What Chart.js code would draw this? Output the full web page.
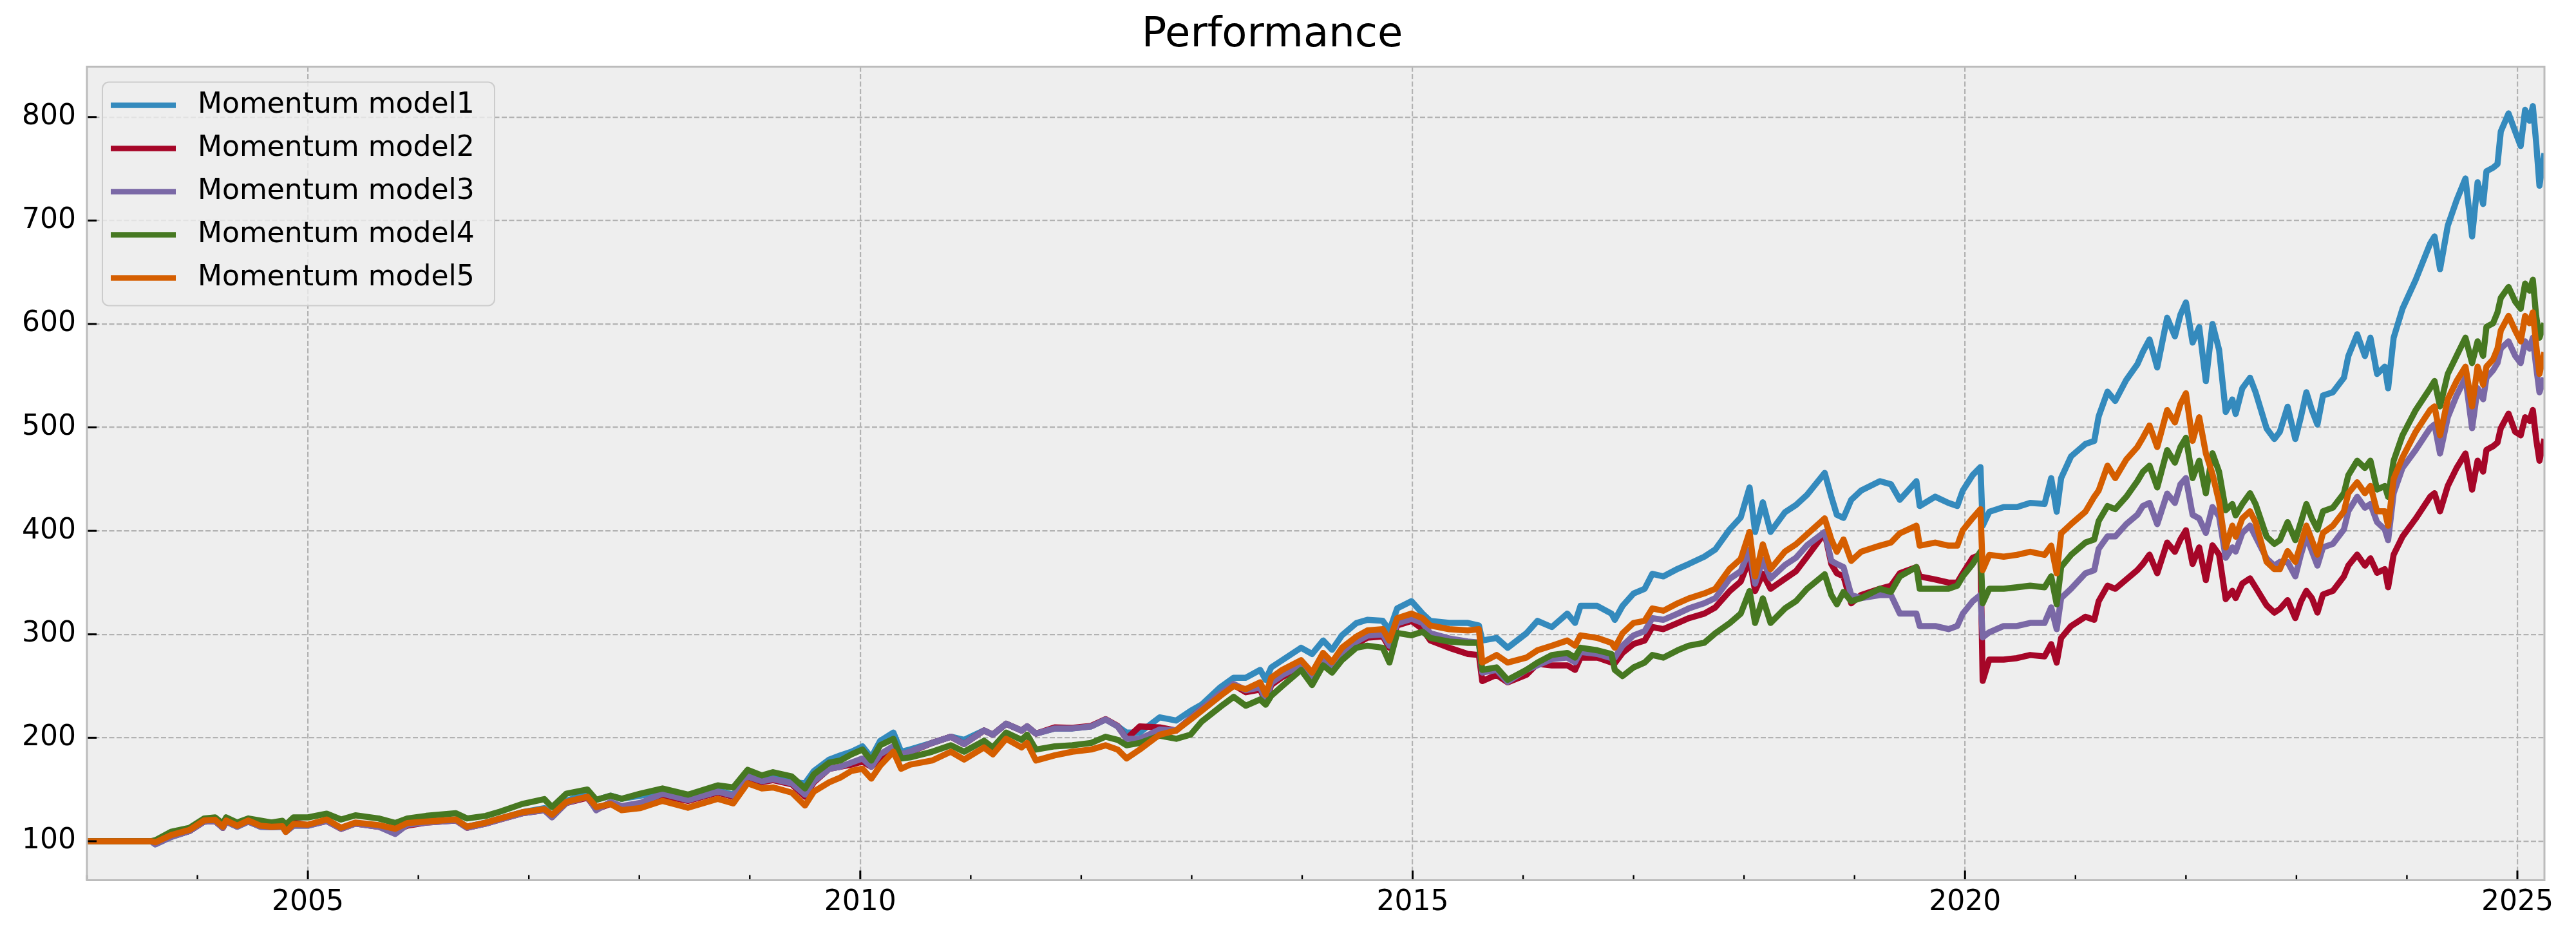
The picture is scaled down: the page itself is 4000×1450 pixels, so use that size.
<!DOCTYPE html>
<html>
<head>
<meta charset="utf-8">
<title>Performance</title>
<script src="https://cdn.jsdelivr.net/npm/chart.js@4.4.1/dist/chart.umd.min.js"></script>
<style>
  html, body { margin: 0; padding: 0; background: #ffffff; }
  #perfChart { display: block; }
</style>
</head>
<body>
<canvas id="perfChart" width="4000" height="1450"></canvas>
<script>
// Fechas en años decimales (eje x compartido por todas las series)
var dates = [
  2003.00, 2003.58, 2003.62, 2003.76, 2003.93, 2004.06, 2004.16, 2004.23, 2004.26, 2004.36,
  2004.46, 2004.57, 2004.67, 2004.77, 2004.80, 2004.87, 2005.00, 2005.17, 2005.30, 2005.43,
  2005.64, 2005.79, 2005.90, 2006.07, 2006.34, 2006.44, 2006.61, 2006.74, 2006.94, 2007.14,
  2007.21, 2007.34, 2007.53, 2007.61, 2007.74, 2007.84, 2008.01, 2008.21,
  2008.44, 2008.71, 2008.85, 2008.98, 2009.11, 2009.21, 2009.38, 2009.50, 2009.58, 2009.72,
  2009.82, 2009.92, 2010.02, 2010.10, 2010.18, 2010.30, 2010.37, 2010.45, 2010.65, 2010.82,
  2010.94, 2011.12, 2011.20, 2011.32, 2011.46, 2011.51, 2011.59, 2011.76, 2011.92, 2012.09,
  2012.22, 2012.33, 2012.41, 2012.53, 2012.71, 2012.86, 2012.99, 2013.09, 2013.26, 2013.38,
  2013.49, 2013.62, 2013.67, 2013.72, 2013.82, 2013.99, 2014.09, 2014.19, 2014.27, 2014.36,
  2014.49, 2014.59, 2014.73, 2014.79, 2014.86, 2014.99, 2015.09, 2015.16, 2015.33, 2015.50,
  2015.60, 2015.63, 2015.76, 2015.86, 2016.03, 2016.13, 2016.26, 2016.40, 2016.47, 2016.52,
  2016.67, 2016.80, 2016.83, 2016.90, 2017.00, 2017.10, 2017.17, 2017.27, 2017.40, 2017.50,
  2017.64, 2017.74, 2017.87, 2017.97, 2018.05, 2018.10, 2018.17, 2018.24, 2018.37, 2018.47,
  2018.57, 2018.73,
  2018.79, 2018.84, 2018.90, 2018.97, 2019.06, 2019.23, 2019.33, 2019.41, 2019.56, 2019.59,
  2019.73, 2019.85, 2019.93, 2019.98, 2020.07, 2020.14, 2020.16, 2020.22, 2020.35, 2020.47,
  2020.59, 2020.72, 2020.78, 2020.83, 2020.87, 2020.96, 2021.09, 2021.17, 2021.21, 2021.29,
  2021.36, 2021.46, 2021.56, 2021.61, 2021.67, 2021.74, 2021.83, 2021.90, 2021.95, 2022.00,
  2022.06, 2022.12, 2022.18, 2022.24, 2022.30, 2022.36, 2022.42, 2022.45, 2022.51, 2022.58,
  2022.63, 2022.73, 2022.80, 2022.85, 2022.92, 2022.99, 2023.04, 2023.09, 2023.14, 2023.19,
  2023.24, 2023.33, 2023.43, 2023.47, 2023.55, 2023.62, 2023.67, 2023.73, 2023.80, 2023.83,
  2023.88, 2023.96, 2024.08, 2024.21, 2024.25, 2024.30, 2024.37, 2024.45, 2024.53, 2024.59,
  2024.64, 2024.69, 2024.72, 2024.78, 2024.82, 2024.85, 2024.92, 2024.98, 2025.03, 2025.07,
  2025.11, 2025.14, 2025.17, 2025.20, 2025.245
];

// Momentum model1
var model1 = [
  100, 100, 97, 104, 110, 119, 119.5, 113, 119, 114,
  119, 114, 113.5, 114, 109.5, 115, 115, 120, 112.5, 117.5,
  115, 111, 117, 119, 121, 114, 118, 122, 128, 132,
  125, 139, 146, 140, 144, 141, 144, 148,
  140, 149, 145, 163, 158, 161, 157, 156, 167.8, 179,
  183, 186.5, 191.7, 181, 197, 205, 186.5, 188.6, 195, 201,
  198, 207, 203, 213.5, 207, 211, 204, 209, 209, 211,
  217.7, 211, 205, 205, 219.7, 216.6, 226, 232, 248.9, 258,
  258, 265.6, 256, 268, 275, 287, 281, 294, 285, 299,
  310.8, 314, 313, 303.7, 325, 332, 320, 313, 311, 311,
  308.5, 294, 296.5, 287, 301, 313, 307, 320, 311, 327.5,
  327.5, 320, 314, 327.5, 339.5, 344, 358.5, 356, 363.3, 368,
  375, 382, 401.4, 413, 442, 399, 427.6, 399, 418, 425,
  434.8, 456,
  433, 415.5, 412.5, 430, 439, 448, 445, 430, 448, 424,
  433, 427, 424, 439, 454, 461.6, 405, 418.5, 423, 423,
  427, 426, 451, 418.5, 451, 472, 484, 487, 510.7, 534.5,
  525.6, 546, 561, 573, 585, 558, 606, 588, 609, 620.8,
  582, 597, 544.8, 600, 575, 515, 527, 513, 537.8, 548,
  534, 499, 488.8, 495.8, 520, 488.8, 509.8, 534, 516.8, 502.8,
  530.8, 534, 548, 569, 590, 569, 586.7, 551.7, 558.7, 537.8,
  586.7, 614.7, 642.7, 677.6, 684.6, 653, 695, 719.6, 740.6, 684.6,
  737, 716, 747.6, 751, 754.5, 786, 803.5, 786, 772, 807,
  796.5, 810.5, 775.5, 733.6, 765
];

// Momentum model2
var model2 = [
  100, 100, 98, 104.5, 110, 119, 119.5, 113, 119, 114.5,
  119, 114.5, 114, 118, 115, 118, 115.5, 119.5, 112, 117,
  114, 110, 115, 118, 120, 113, 117, 121, 127, 130,
  124, 137, 142, 131, 136, 132, 135, 144,
  139, 147, 143, 161, 157, 159, 155, 143, 157, 170,
  172, 174, 177, 172, 180, 190.6, 184, 186, 195, 201,
  194, 207, 203, 213.5, 207, 211, 204, 210, 209.5, 211.5,
  218, 211.5, 199, 211, 210, 207, 219, 228, 242, 251,
  244, 246.6, 234.7, 251, 258.6, 268, 256, 275, 266, 280,
  290.7, 296.7, 298, 287, 308.6, 313, 305, 294, 287, 281,
  280, 254.8, 260.8, 253.6, 260.8, 271.5, 270, 270, 265.6, 277.5,
  277.5, 272.7, 272, 282, 290.6, 294, 307, 305, 311, 315.6,
  320, 326, 341.8, 351, 372.8, 341.8, 358.5, 344, 353.7, 361,
  375, 398,
  368, 359, 356, 330, 338, 344, 347, 359, 365, 356,
  353, 350, 350, 359, 374, 377, 255, 275.6, 275.6, 277,
  280, 278.6, 290.5, 272.6, 296.4, 308, 317, 314, 332, 347,
  344, 353, 362, 368, 377, 359, 388.7, 379.8, 391.7, 400.6,
  368, 384, 352.4, 386, 377, 334, 342, 335, 349, 354,
  345.5, 328, 321, 324.5, 333, 315.7, 331.5, 342, 335, 321,
  338.5, 342, 356, 366.4, 377, 366.4, 373.4, 359.4, 363, 345.5,
  377, 394.4, 411.9, 432.9, 436.4, 418.9, 443.4, 460.8, 474.8, 439.9,
  467.8, 457.3, 478.3, 481.8, 485.3, 499.3, 513.3, 495.8, 492.3, 509.8,
  506.3, 516.8, 488.8, 467.8, 488.8
];

// Momentum model3
var model3 = [
  100, 100, 97, 104, 110, 119, 119.5, 113, 119, 114,
  119, 114, 113.5, 114, 109, 115, 115, 119.5, 112, 117,
  114, 107, 116, 118, 120, 113, 117, 121, 127, 130,
  123, 137, 143, 130, 138, 134, 137, 146,
  139.7, 148, 144, 162.6, 158, 160, 156, 145, 158, 170,
  172, 176, 180, 172, 184, 192, 184, 186.5, 195, 201,
  194, 207, 203, 213.5, 207, 211, 204, 209, 209, 211,
  217.7, 211, 199, 199, 208, 207, 219, 228, 243, 252,
  246, 248.6, 236.7, 253, 260.6, 270, 258, 277, 268, 282,
  292.7, 298.7, 300, 289, 310.6, 315, 311, 301, 296, 293,
  292, 263, 265.6, 254, 265.6, 270, 276, 277.5, 273, 283,
  281, 277, 277.5, 289, 299, 303, 315.6, 314, 320, 325,
  330, 335, 353.7, 361, 382, 349, 372, 354, 367, 374,
  386, 399,
  371, 368, 365, 338, 335, 338, 338, 320, 320, 308,
  308, 305, 308, 320, 332, 338, 297, 302, 308, 308,
  311, 311, 326, 305, 335, 344, 359, 362, 382.7, 394.6,
  394.6, 406.5, 415.5, 424, 427, 406.5, 436, 427, 445, 451,
  415.5, 412, 398, 423, 414, 374, 384, 380, 398, 405,
  394.4, 373.4, 366.4, 370, 370, 356, 377, 394.4, 380.4, 366.4,
  384, 387.4, 401.4, 419, 432.9, 422.4, 425.9, 408.4, 401.4, 391,
  436.4, 460.8, 478.3, 499.3, 502.8, 474.8, 509.8, 530.8, 548, 499.3,
  537.8, 527.3, 548, 555.2, 562.2, 576.2, 583.2, 569.2, 562.2, 583.2,
  576.2, 586.7, 558.7, 534, 548
];

// Momentum model4
var model4 = [
  100, 100, 101, 109, 113, 122, 123, 117, 123, 118,
  122, 120, 118, 119.7, 116, 123, 123, 126.6, 121, 125,
  122, 117.6, 122, 124.5, 127, 122, 124.5, 128.6, 136, 140.7,
  133, 146, 150, 140, 144, 141, 146, 151,
  145, 154, 152, 169, 163.6, 166.7, 162.6, 151, 164.7, 176,
  178, 184, 188.6, 178, 192.7, 199, 180, 181, 186.5, 192.7,
  186.5, 197, 190.6, 205, 198, 203, 188.6, 191.7, 192.7, 195,
  201, 198, 192.7, 195, 202, 199, 203, 215.6, 230, 239.5,
  231, 237, 232, 240.5, 250, 265.6, 251, 270, 263, 275,
  287, 289, 287, 272.7, 301.3, 299, 302.5, 296.5, 293, 291.8,
  291.8, 265.6, 268, 256, 265.6, 272.7, 280, 282, 277.5, 287,
  284.6, 281, 265.6, 259.6, 268, 272.7, 280, 277.5, 284.6, 289,
  291.8, 301, 310.8, 320, 341.8, 311, 334.7, 311, 325, 332,
  344, 358,
  338, 329, 341, 332, 335, 344, 341, 356, 365, 344,
  344, 344, 347, 356, 368, 380, 330, 344, 344, 345.5,
  347, 345.5, 356, 329, 365, 376.8, 388.7, 391.7, 409.5, 424,
  421, 433, 448, 457, 463, 442, 478, 466, 481, 490,
  451, 467.8, 436.4, 475, 457, 420, 425.9, 415, 425.9, 436.4,
  425.9, 394.4, 387.4, 391, 408.4, 391, 408.4, 425.9, 412, 401.4,
  418.9, 422.4, 436.4, 453.8, 467.8, 460.8, 467.8, 439.9, 443.4, 432.9,
  467.8, 492.3, 516.8, 537.8, 544.8, 520.3, 551.7, 569.2, 586.7, 562.2,
  583.2, 569.2, 597.2, 600.7, 611.2, 625.2, 635.7, 621.7, 614.7, 639,
  632.2, 642.7, 607.7, 586.7, 600.7
];

// Momentum model5
var model5 = [
  100, 100, 99, 105.8, 111, 120, 120.7, 114, 120, 115,
  120, 115, 114, 114.5, 109, 116.6, 116, 121, 113, 118,
  115.6, 112, 117.6, 119, 121, 114, 118, 122, 128, 131,
  125.5, 138, 143, 133, 136, 130, 132, 139,
  132.4, 141, 136.6, 156, 151, 152, 147, 134.5, 148, 157,
  161.5, 168, 170, 160.5, 173, 186.5, 170, 174, 178, 186.5,
  179, 190.6, 184, 199, 190.6, 195, 178, 183, 186.5, 188.6,
  192.7, 188.6, 180, 188.6, 203, 207, 217.7, 226, 240.5, 250,
  247, 253.6, 241.7, 258, 265.6, 275, 263, 282, 273, 287,
  297.7, 303.7, 305, 294, 315.6, 320, 315.6, 308.5, 305, 303.7,
  305, 272.7, 280, 272.7, 277.5, 284.6, 289, 294, 289, 299,
  296.5, 291.8, 287, 301, 311, 313, 325, 322.8, 330, 334.7,
  339.5, 344, 363.3, 372.8, 399, 356, 387, 363, 380, 387,
  396.7, 412,
  391.7, 379.8, 391.7, 371, 379.8, 385.7, 388.7, 397.6, 405, 385.7,
  388.7, 385.7, 385.7, 400.6, 412.5, 421, 362, 376.8, 375, 376.8,
  379.8, 376.8, 385.7, 359, 397.6, 406.5, 418.5, 433, 439, 463,
  451, 469, 481, 490, 501.8, 481, 516.7, 504.8, 522.6, 533,
  487, 509.8, 475, 455, 428, 384, 405, 394.4, 412, 418.9,
  408.4, 370, 363, 363, 380.4, 370, 387.4, 405, 391, 377,
  398, 405, 418.9, 436.4, 446.9, 436.4, 443.4, 418.9, 418.9, 405,
  450.3, 471, 495.8, 516.8, 520.3, 492.3, 527.3, 544.8, 558.7, 520.3,
  558.7, 541.3, 558.7, 565.7, 576.2, 593.7, 607.7, 593.7, 583.2, 607.7,
  600.7, 611.2, 579.7, 551.7, 572.7
];

var seriesNames = ['Momentum model1', 'Momentum model2', 'Momentum model3', 'Momentum model4', 'Momentum model5'];
var yTicks = [100, 200, 300, 400, 500, 600, 700, 800];
var xTickYears = [2003, 2004, 2005, 2006, 2007, 2008, 2009, 2010, 2011, 2012, 2013, 2014,
                  2015, 2016, 2017, 2018, 2019, 2020, 2021, 2022, 2023, 2024, 2025];
var xLabelYears = [2005, 2010, 2015, 2020, 2025];

// estilo bmh
var lineColors = ['#348ABD', '#A60628', '#7A68A6', '#467821', '#D55E00'];
var FONT = 'DejaVu Sans';
var gridColor = '#b2b2b2';

var allSeries = [model1, model2, model3, model4, model5];

function toPoints(values) {
    return dates.map(function (d, i) { return { x: d, y: values[i] }; });
}

var datasets = allSeries.map(function (values, i) {
    return {
        label: seriesNames[i],
        data: toPoints(values),
        borderColor: lineColors[i],
        backgroundColor: lineColors[i],
        borderWidth: 9.5,
        pointRadius: 0,
        fill: false,
        tension: 0,
        borderJoinStyle: 'round',
        clip: 0,
        // model5 queda encima, como en matplotlib
        order: allSeries.length - 1 - i
    };
});

// Fondo gris del area de graficos
var plotBackground = {
    id: 'plotBackground',
    beforeDraw: function (chart) {
        var a = chart.chartArea, ctx = chart.ctx;
        ctx.save();
        ctx.fillStyle = '#eeeeee';
        ctx.fillRect(a.left, a.top, a.right - a.left, a.bottom - a.top);
        ctx.restore();
    }
};

// Marco y marcas de los ejes hacia adentro
var axesFrame = {
    id: 'axesFrame',
    afterDatasetsDraw: function (chart) {
        var a = chart.chartArea, ctx = chart.ctx;
        var xs = chart.scales.x, ys = chart.scales.y;
        ctx.save();
        ctx.strokeStyle = '#000000';
        xs.ticks.forEach(function (t) {
            var px = xs.getPixelForValue(t.value);
            var major = xLabelYears.indexOf(t.value) >= 0;
            ctx.lineWidth = major ? 3 : 2.4;
            ctx.beginPath();
            ctx.moveTo(px, a.bottom);
            ctx.lineTo(px, a.bottom - (major ? 15 : 8));
            ctx.stroke();
        });
        ctx.lineWidth = 3;
        ys.ticks.forEach(function (t) {
            var py = ys.getPixelForValue(t.value);
            ctx.beginPath();
            ctx.moveTo(a.left, py);
            ctx.lineTo(a.left + 15, py);
            ctx.stroke();
        });
        ctx.strokeStyle = '#bcbcbc';
        ctx.lineWidth = 3;
        ctx.strokeRect(a.left, a.top, a.right - a.left, a.bottom - a.top);
        ctx.restore();
    }
};

// Leyenda con caja redondeada arriba a la izquierda
var boxLegend = {
    id: 'boxLegend',
    afterDraw: function (chart) {
        var a = chart.chartArea, ctx = chart.ctx;
        var x0 = a.left + 24, y0 = a.top + 24, w = 609, h = 347, r = 10;
        ctx.save();
        ctx.beginPath();
        ctx.moveTo(x0 + r, y0);
        ctx.arcTo(x0 + w, y0, x0 + w, y0 + h, r);
        ctx.arcTo(x0 + w, y0 + h, x0, y0 + h, r);
        ctx.arcTo(x0, y0 + h, x0, y0, r);
        ctx.arcTo(x0, y0, x0 + w, y0, r);
        ctx.closePath();
        ctx.fillStyle = 'rgba(238,238,238,0.8)';
        ctx.fill();
        ctx.strokeStyle = '#cccccc';
        ctx.lineWidth = 2;
        ctx.stroke();

        ctx.font = '44px "' + FONT + '"';
        ctx.textBaseline = 'middle';
        ctx.textAlign = 'left';
        chart.data.datasets.forEach(function (ds, i) {
            var y = y0 + 36 + i * 67;
            ctx.strokeStyle = ds.borderColor;
            ctx.lineWidth = 8.5;
            ctx.beginPath();
            ctx.moveTo(x0 + 13, y);
            ctx.lineTo(x0 + 114, y);
            ctx.stroke();
            ctx.fillStyle = '#000000';
            ctx.fillText(ds.label, x0 + 148, y);
        });
        ctx.restore();
    }
};

Chart.defaults.font.family = FONT;

new Chart(document.getElementById('perfChart').getContext('2d'), {
    type: 'line',
    data: { datasets: datasets },
    options: {
        responsive: false,
        animation: false,
        devicePixelRatio: 1,
        layout: { padding: { left: 0, right: 49, top: 0, bottom: 0 } },
        plugins: {
            legend: { display: false },
            tooltip: { enabled: false },
            title: {
                display: true,
                text: 'Performance',
                color: '#000000',
                font: { family: FONT, size: 64, weight: 'normal' },
                padding: { top: 16.5, bottom: 10.2 }
            }
        },
        scales: {
            x: {
                type: 'linear',
                min: 2003.0,
                max: 2025.245,
                afterBuildTicks: function (scale) {
                    scale.ticks = xTickYears.map(function (v) { return { value: v }; });
                },
                afterFit: function (scale) { scale.height = 83.5; },
                ticks: {
                    autoSkip: false,
                    maxRotation: 0,
                    minRotation: 0,
                    padding: 9,
                    color: '#000000',
                    font: { family: FONT, size: 44 },
                    callback: function (v) {
                        return xLabelYears.indexOf(v) >= 0 ? String(v) : '';
                    }
                },
                grid: {
                    drawTicks: false,
                    lineWidth: 2.2,
                    color: function (c) {
                        return c.tick && xLabelYears.indexOf(c.tick.value) >= 0 ? gridColor : 'rgba(0,0,0,0)';
                    }
                },
                border: { display: false, dash: [8, 3.5] }
            },
            y: {
                type: 'linear',
                min: 62.3,
                max: 848.7,
                afterBuildTicks: function (scale) {
                    scale.ticks = yTicks.map(function (v) { return { value: v }; });
                },
                afterFit: function (scale) { scale.width = 135; },
                ticks: {
                    padding: 17,
                    color: '#000000',
                    font: { family: FONT, size: 44 },
                    callback: function (v) { return String(v); }
                },
                grid: {
                    drawTicks: false,
                    lineWidth: 2.2,
                    color: gridColor
                },
                border: { display: false, dash: [8, 3.5] }
            }
        }
    },
    plugins: [plotBackground, axesFrame, boxLegend]
});
</script>
</body>
</html>
